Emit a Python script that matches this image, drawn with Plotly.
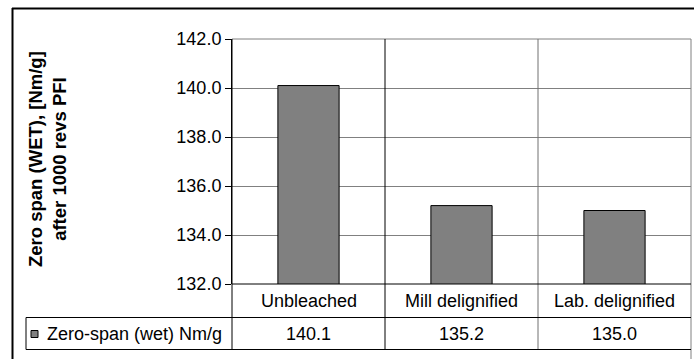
import plotly.graph_objects as go

# Data
categories = ["Unbleached", "Mill delignified", "Lab. delignified"]
zero_span_wet = [140.1, 135.2, 135.0]
series_name = "Zero-span (wet) Nm/g"
y_title_lines = ["Zero span (WET), [Nm/g]", "after 1000 revs PFI"]
y_ticks = [132.0, 134.0, 136.0, 138.0, 140.0, 142.0]

# Page geometry (pixels)
W, H = 694, 359
L, R, T, B = 232, 691, 39, 284
ROW1, ROW2 = 317.5, 349.5
LEG_LEFT = 26

FONT = "Liberation Sans, Arial, sans-serif"
GRID = "#808080"


def px(x):
    return (x - L) / (R - L)


def py(y):
    return (B - y) / (B - T)


fig = go.Figure()
fig.add_trace(go.Bar(
    x=categories, y=zero_span_wet, name=series_name, width=0.4,
    marker=dict(color="#808080", line=dict(color="black", width=1)),
    showlegend=False,
))

shapes = []


def line(x0, y0, x1, y1, color="black", width=1, xref="paper"):
    shapes.append(dict(type="line", xref=xref, yref="paper", x0=x0, y0=y0,
                       x1=x1, y1=y1, line=dict(color=color, width=width),
                       layer="above"))


# outer chart border (top and left visible)
line(px(12), py(8.5), px(720), py(8.5), width=2)
line(px(12.5), py(8), px(12.5), py(370), width=2)

# plot-area frame
line(0, 1, 1, 1, color=GRID)
line(1, 1, 1, py(H + 5), color=GRID)

# category separators through plot and table
line(0.5, 1, 0.5, py(ROW2), color="black", xref="x")
line(1.5, 1, 1.5, py(ROW2), color="#707070", xref="x")

# table rules
line(0, 0, 1, 0)
line(px(LEG_LEFT), py(ROW1), 1, py(ROW1))
line(px(LEG_LEFT), py(ROW2), 1, py(ROW2))
line(px(LEG_LEFT), py(ROW1), px(LEG_LEFT), py(ROW2))
line(0, 1, 0, py(ROW2))

# legend key
shapes.append(dict(type="rect", xref="paper", yref="paper",
                   x0=px(31), x1=px(38), y0=py(337.5), y1=py(330.5),
                   fillcolor="#808080", line=dict(color="black", width=1),
                   layer="above"))

annotations = []
row1_mid = py((B + ROW1) / 2)
row2_mid = py((ROW1 + ROW2) / 2)
for cat, val in zip(categories, zero_span_wet):
    annotations.append(dict(x=cat, xref="x", y=row1_mid, yref="paper",
                            text=cat, showarrow=False, yanchor="middle",
                            font=dict(family=FONT, size=18, color="black")))
    annotations.append(dict(x=cat, xref="x", y=row2_mid, yref="paper",
                            text=f"{val:.1f}", showarrow=False, yanchor="middle",
                            font=dict(family=FONT, size=18, color="black")))

annotations.append(dict(x=px(45), xref="paper", y=row2_mid, yref="paper",
                        text=series_name, showarrow=False, xanchor="left",
                        yanchor="middle",
                        font=dict(family=FONT, size=18, color="black")))

# y-axis title (two bold lines)
annotations.append(dict(x=px(47), xref="paper", y=py(159), yref="paper",
                        text="<b>" + "<br>".join(y_title_lines) + "</b>",
                        textangle=-90, showarrow=False,
                        xanchor="center", yanchor="middle",
                        font=dict(family=FONT, size=18.5, color="black")))

fig.update_layout(
    width=W, height=H,
    margin=dict(l=L, r=W - R, t=T, b=H - B, pad=0),
    paper_bgcolor="white", plot_bgcolor="white",
    font=dict(family=FONT, size=18, color="black"),
    bargap=0.6,
    shapes=shapes,
    annotations=annotations,
    xaxis=dict(type="category", range=[-0.5, 2.5], showticklabels=False,
               ticks="", showgrid=False, showline=False, zeroline=False,
               fixedrange=True),
    yaxis=dict(range=[132, 142], tickvals=y_ticks, tickformat=".1f",
               ticks="outside", ticklen=6, tickcolor="black", tickwidth=1,
               showline=True, linecolor="black", linewidth=1,
               showgrid=True, gridcolor=GRID, gridwidth=1, zeroline=False,
               tickfont=dict(family=FONT, size=18, color="black"),
               fixedrange=True),
)

fig.write_html("out.html")
